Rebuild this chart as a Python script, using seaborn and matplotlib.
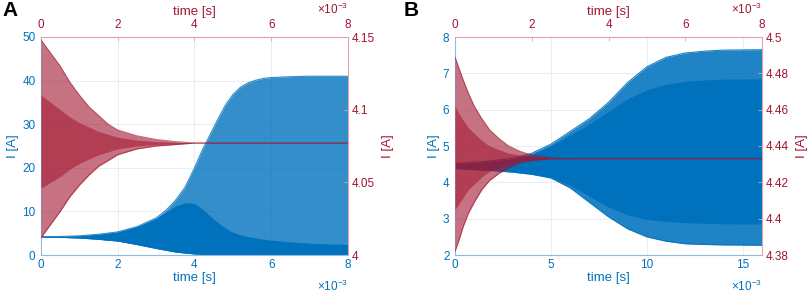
import matplotlib
matplotlib.use("Agg")
import matplotlib.pyplot as plt
import seaborn as sns
import pandas as pd

BLUE = "#0072BD"
RED = "#A2142F"

# ---------------- Panel A (time in units of 1e-3 s) ----------------
a_blue_t     = [0, 0.5, 1, 1.5, 2, 2.5, 3, 3.25, 3.5, 3.75, 4.0, 4.2, 4.4, 4.6, 4.8,
                5.0, 5.2, 5.4, 5.6, 5.8, 6.0, 6.5, 7.0, 8.0]
a_blue_upper = [4.2, 4.25, 4.4, 4.75, 5.3, 6.5, 8.5, 10.2, 12.5, 15.5, 20.0, 24.0, 27.5, 31.0, 34.3,
                36.8, 38.5, 39.5, 40.1, 40.5, 40.7, 40.9, 41.0, 41.0]
a_blue_lower = [4.1, 4.05, 3.9, 3.6, 3.2, 2.4, 1.5, 1.1, 0.7, 0.45, 0.25, 0.15, 0.1, 0.07, 0.05,
                0.05, 0.05, 0.05, 0.05, 0.05, 0.05, 0.05, 0.05, 0.05]
a_blue_core  = [4.2, 4.25, 4.4, 4.75, 5.3, 6.5, 8.4, 9.8, 11.2, 12.0, 11.8, 10.6, 9.0, 7.5, 6.2,
                5.2, 4.6, 4.2, 3.9, 3.6, 3.4, 3.0, 2.7, 2.4]

a_red_t      = [0, 0.25, 0.5, 0.75, 1.0, 1.25, 1.5, 1.75, 2.0, 2.5, 3.0, 3.5, 4.0, 8.0]
a_red_upper  = [4.148, 4.139, 4.130, 4.119, 4.110, 4.102, 4.096, 4.090, 4.086, 4.082, 4.0795, 4.078, 4.077, 4.077]
a_red_lower  = [4.012, 4.021, 4.030, 4.040, 4.048, 4.055, 4.061, 4.065, 4.069, 4.073, 4.075, 4.076, 4.077, 4.077]
a_red_cup    = [4.110, 4.105, 4.100, 4.095, 4.091, 4.088, 4.085, 4.083, 4.081, 4.079, 4.078, 4.0775, 4.077, 4.077]
a_red_clo    = [4.046, 4.050, 4.054, 4.059, 4.063, 4.066, 4.069, 4.071, 4.073, 4.075, 4.076, 4.0765, 4.077, 4.077]

a_bx_ticks = [0, 2, 4, 6, 8]
a_tx_ticks = [0, 2, 4, 6, 8]
a_ly_ticks = [0, 10, 20, 30, 40, 50]
a_ry_ticks = [4.0, 4.05, 4.1, 4.15]
a_ry_labels = ["4", "4.05", "4.1", "4.15"]

# ---------------- Panel B ----------------
b_blue_t     = [0, 1, 2, 3, 4, 5, 6, 7, 8, 9, 10, 11, 12, 13, 14, 16]
b_blue_upper = [4.52, 4.55, 4.6, 4.66, 4.8, 5.05, 5.4, 5.75, 6.2, 6.75, 7.18, 7.44, 7.56, 7.61, 7.64, 7.65]
b_blue_lower = [4.38, 4.35, 4.32, 4.28, 4.22, 4.12, 3.85, 3.45, 3.05, 2.72, 2.5, 2.38, 2.31, 2.29, 2.28, 2.27]
b_core_upper = [4.50, 4.53, 4.58, 4.64, 4.77, 5.0, 5.3, 5.6, 5.95, 6.3, 6.55, 6.7, 6.78, 6.82, 6.84, 6.85]
b_core_lower = [4.40, 4.37, 4.34, 4.30, 4.24, 4.14, 3.92, 3.62, 3.32, 3.1, 2.98, 2.92, 2.89, 2.87, 2.86, 2.85]

b_red_t      = [0, 0.1, 0.22, 0.35, 0.5, 0.7, 0.9, 1.15, 1.4, 1.7, 2.0, 2.5, 3.0, 8.0]
b_red_upper  = [4.489, 4.483, 4.476, 4.469, 4.462, 4.455, 4.449, 4.444, 4.440, 4.437, 4.435, 4.4335, 4.433, 4.433]
b_red_lower  = [4.382, 4.388, 4.396, 4.403, 4.409, 4.416, 4.421, 4.425, 4.428, 4.431, 4.432, 4.433, 4.433, 4.433]
b_red_cup    = [4.462, 4.458, 4.454, 4.450, 4.447, 4.443, 4.440, 4.438, 4.436, 4.435, 4.434, 4.4333, 4.433, 4.433]
b_red_clo    = [4.405, 4.408, 4.412, 4.416, 4.419, 4.423, 4.426, 4.428, 4.430, 4.432, 4.4325, 4.433, 4.433, 4.433]

b_bx_ticks = [0, 5, 10, 15]
b_tx_ticks = [0, 2, 4, 6, 8]
b_ly_ticks = [2, 3, 4, 5, 6, 7, 8]
b_ry_ticks = [4.38, 4.40, 4.42, 4.44, 4.46, 4.48, 4.50]
b_ry_labels = ["4.38", "4.4", "4.42", "4.44", "4.46", "4.48", "4.5"]

sns.set_theme(style="white")
plt.rcParams['font.family'] = ['Liberation Sans', 'DejaVu Sans']
plt.rcParams['mathtext.fontset'] = 'custom'
plt.rcParams['mathtext.rm'] = 'Liberation Sans'
plt.rcParams['mathtext.it'] = 'Liberation Sans'

fig = plt.figure(figsize=(8.09, 2.92), dpi=100)

W, H = 809, 292
AX_W = 307 / W
AX_H = 218 / H
AX_B = (H - 255) / H
TS = 8.5
LS = 9.5


def draw_band(ax, t, lo, up, color, alpha, lw=0.8, lines=True):
    ax.fill_between(t, lo, up, color=color, alpha=alpha, lw=0)
    if lines:
        df = pd.DataFrame({"t": t, "lo": lo, "up": up})
        sns.lineplot(data=df, x="t", y="up", ax=ax, color=color, lw=lw, alpha=alpha)
        sns.lineplot(data=df, x="t", y="lo", ax=ax, color=color, lw=lw, alpha=alpha)


def setup(left, bx, by, tx, ry, ry_labels, xlim_b, ylim_b, xlim_t, ylim_t):
    ax = fig.add_axes([left, AX_B, AX_W, AX_H])
    ax2 = fig.add_axes([left, AX_B, AX_W, AX_H], frameon=False)
    ax2.patch.set_visible(False)
    ax.set_xlim(*xlim_b); ax.set_ylim(*ylim_b)
    ax2.set_xlim(*xlim_t); ax2.set_ylim(*ylim_t)
    ax.set_xticks(bx); ax.set_yticks(by)
    ax.set_xticklabels([f"{v:g}" for v in bx])
    ax.set_yticklabels([f"{v:g}" for v in by])
    ax2.xaxis.tick_top(); ax2.xaxis.set_label_position('top')
    ax2.yaxis.tick_right(); ax2.yaxis.set_label_position('right')
    ax2.set_xticks(tx); ax2.set_xticklabels([f"{v:g}" for v in tx])
    ax2.set_yticks(ry); ax2.set_yticklabels(ry_labels)
    ax.grid(True, color="#e3ebf2", lw=0.6)
    ax.set_axisbelow(True)
    for s in ["left", "bottom"]:
        ax.spines[s].set_color("#8dbbe2"); ax.spines[s].set_linewidth(0.8)
    for s in ["top", "right"]:
        ax.spines[s].set_color("#e2a3b0"); ax.spines[s].set_linewidth(0.8)
    ax.tick_params(axis='x', direction='in', length=3, width=0.6, colors="#8dbbe2",
                   labelcolor=BLUE, labelsize=TS, pad=3, top=False)
    ax.tick_params(axis='y', direction='in', length=3, width=0.6, colors="#8dbbe2",
                   labelcolor=BLUE, labelsize=TS, pad=4, right=False)
    ax2.tick_params(axis='x', direction='in', length=3, width=0.6, colors="#e2a3b0",
                    labelcolor=RED, labelsize=TS, pad=4, bottom=False, labelbottom=False)
    ax2.tick_params(axis='y', direction='in', length=3, width=0.6, colors="#e2a3b0",
                    labelcolor=RED, labelsize=TS, pad=3, left=False, labelleft=False)
    ax.text(1.0, -0.142, r"$\times10^{-3}$", transform=ax.transAxes, ha='right',
            va='center', color=BLUE, fontsize=TS)
    ax2.text(1.0, 1.125, r"$\times10^{-3}$", transform=ax2.transAxes, ha='right',
             va='center', color=RED, fontsize=TS)
    return ax, ax2


def finish_labels(ax, ax2):
    ax.set_xlabel("time [s]", color=BLUE, fontsize=LS, labelpad=0.5)
    ax.set_ylabel("I [A]", color=BLUE, fontsize=LS, labelpad=2)
    ax2.set_xlabel("time [s]", color=RED, fontsize=LS, labelpad=3)
    ax2.set_ylabel("I [A]", color=RED, fontsize=LS, labelpad=5)


# Panel A
axA, axA2 = setup(41 / W, a_bx_ticks, a_ly_ticks, a_tx_ticks, a_ry_ticks, a_ry_labels,
                  (0, 8), (0, 50), (0, 8), (4.0, 4.15))
draw_band(axA, a_blue_t, a_blue_lower, a_blue_upper, BLUE, 0.8)
draw_band(axA, a_blue_t, a_blue_lower, a_blue_core, BLUE, 1.0, lines=False)
draw_band(axA2, a_red_t, a_red_lower, a_red_upper, RED, 0.6)
draw_band(axA2, a_red_t, a_red_clo, a_red_cup, RED, 0.55, lines=False)
finish_labels(axA, axA2)

# Panel B
axB, axB2 = setup(455 / W, b_bx_ticks, b_ly_ticks, b_tx_ticks, b_ry_ticks, b_ry_labels,
                  (0, 16), (2, 8), (0, 8), (4.38, 4.5))
draw_band(axB, b_blue_t, b_blue_lower, b_blue_upper, BLUE, 0.88)
draw_band(axB, b_blue_t, b_core_lower, b_core_upper, BLUE, 1.0, lines=False)
draw_band(axB2, b_red_t, b_red_lower, b_red_upper, RED, 0.6)
draw_band(axB2, b_red_t, b_red_clo, b_red_cup, RED, 0.55, lines=False)
finish_labels(axB, axB2)

fig.text(2 / W, 1 - 1 / H, "A", fontsize=15, fontweight='bold', ha='left', va='top', color='black')
fig.text(404 / W, 1 - 1 / H, "B", fontsize=15, fontweight='bold', ha='left', va='top', color='black')

fig.savefig("out.png", dpi=100)
